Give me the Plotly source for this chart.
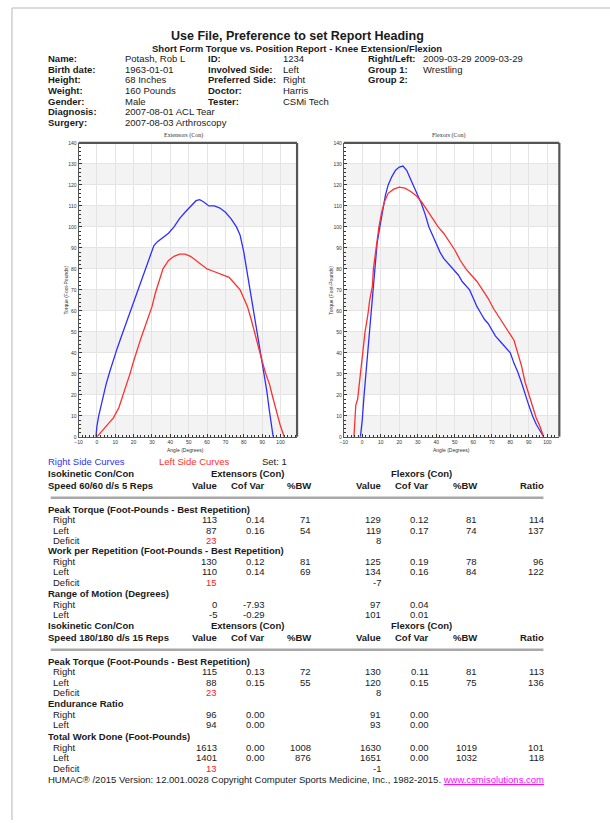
import plotly.graph_objects as go

W, H = 610, 823
FONT = "Arial, 'Liberation Sans', sans-serif"
SERIF = "'Liberation Serif', 'Times New Roman', serif"
BLUE = "#2f2fff"
RED = "#ff2f2f"
TXT = "#1a1a1a"

# ---------------- data: curves ----------------
ext_right_angle = [-0.5, 0, 1, 3, 5, 7, 9, 11, 13, 15, 17, 19, 21, 23, 25, 27, 29, 31, 33, 36, 39, 42, 45,
                   48, 51, 54, 56, 58, 61, 64, 67, 70, 73, 76, 78, 80, 81.5, 83, 85, 87, 89, 91, 92.5, 94, 95, 96]
ext_right_torque = [0, 5, 10, 18, 25, 31, 37, 42, 47, 52, 57, 62, 67, 71, 77, 82, 87, 91, 93, 95, 97, 100, 104,
                    107, 110, 112.5, 113, 112, 110, 110, 109, 107, 104, 100, 96, 88, 80, 72, 62, 52, 42, 31, 22, 12, 5, 0]
ext_left_angle = [0, 3, 6, 9, 12, 14, 16, 18, 20, 22, 24, 26, 28, 30, 32, 34, 36, 39, 42, 45, 48, 51, 54, 57,
                  60, 63, 66, 69, 72, 74, 76, 78, 80, 82, 84, 86, 88, 90, 92, 94, 96, 98, 100, 102]
ext_left_torque = [0, 3, 6, 9, 14, 19, 24, 30, 36, 42, 47, 52, 57, 62, 69, 75, 80, 84, 86, 87, 87, 86, 84, 82,
                   80, 79, 78, 77, 76, 74, 72, 70, 66, 62, 56, 49, 42, 36, 30, 25, 18, 11, 5, 0]
flx_right_angle = [-1, 0, 1, 2, 3, 4, 5, 6, 7, 8, 9.5, 11, 12.5, 14, 16, 18, 20, 22, 24, 26, 28, 30, 32, 34, 36,
                   38, 40, 42, 44, 46, 48, 50, 52, 54, 56, 58, 60, 62, 64, 66, 68, 70, 72, 74, 76, 78, 80, 82,
                   84, 86, 88, 90, 92, 94, 96, 98]
flx_right_torque = [0, 8, 20, 30, 40, 50, 60, 70, 82, 92, 100, 108, 115, 120, 124, 127, 128.5, 129, 127, 123,
                    119, 115, 111, 106, 100, 96, 92, 88, 85, 83, 81, 79, 77, 74, 72, 70, 66, 62, 59, 56, 54, 51,
                    48, 46, 44, 42, 40, 35, 31, 26, 20, 15, 10, 6, 3, 0]
flx_left_angle = [-4.5, -4, -3.5, -2.5, -2, -1.5, -0.5, 0.5, 1.5, 3, 4, 5.5, 6, 7.5, 9, 10.5, 12, 14, 17, 20, 23,
                  26, 29, 32, 35, 38, 41, 44, 47, 50, 53, 56, 59, 62, 65, 68, 71, 74, 77, 79, 82, 84, 86, 88,
                  90, 92, 94, 96, 98]
flx_left_torque = [0, 8, 15, 18, 22, 28, 35, 42, 50, 58, 65, 72, 80, 90, 100, 107, 112, 116, 118, 119, 118.5,
                   117, 115, 112, 108, 104, 100, 97, 93, 89, 84, 80, 77, 74, 70, 66, 61, 57, 53, 50, 46, 40, 34,
                   26, 20, 14, 9, 5, 0]

x_ticks = [-10, 0, 10, 20, 30, 40, 50, 60, 70, 80, 90, 100]
y_ticks = [0, 10, 20, 30, 40, 50, 60, 70, 80, 90, 100, 110, 120, 130, 140]

# ---------------- data: header ----------------
info_labels_1 = ["Name:", "Birth date:", "Height:", "Weight:", "Gender:", "Diagnosis:", "Surgery:"]
info_values_1 = ["Potash, Rob L", "1963-01-01", "68 Inches", "160 Pounds", "Male",
                 "2007-08-01 ACL Tear", "2007-08-03 Arthroscopy"]
info_labels_2 = ["ID:", "Involved Side:", "Preferred Side:", "Doctor:", "Tester:"]
info_values_2 = ["1234", "Left", "Right", "Harris", "CSMi Tech"]
info_labels_3 = ["Right/Left:", "Group 1:", "Group 2:"]
info_values_3 = ["2009-03-29 2009-03-29", "Wrestling", ""]

# ---------------- data: tables ----------------
col_headers = ["Value", "Cof Var", "%BW", "Value", "Cof Var", "%BW", "Ratio"]
peak60_right = [113, 0.14, 71, 129, 0.12, 81, 114]
peak60_left = [87, 0.16, 54, 119, 0.17, 74, 137]
peak60_deficit = [23, 8]
work60_right = [130, 0.12, 81, 125, 0.19, 78, 96]
work60_left = [110, 0.14, 69, 134, 0.16, 84, 122]
work60_deficit = [15, -7]
rom60_right = [0, -7.93, 97, 0.04]
rom60_left = [-5, -0.29, 101, 0.01]
peak180_right = [115, 0.13, 72, 130, 0.11, 81, 113]
peak180_left = [88, 0.15, 55, 120, 0.15, 75, 136]
peak180_deficit = [23, 8]
endur180_right = [96, 0.00, 91, 0.00]
endur180_left = [94, 0.00, 93, 0.00]
total180_right = [1613, 0.00, 1008, 1630, 0.00, 1019, 101]
total180_left = [1401, 0.00, 876, 1651, 0.00, 1032, 118]
total180_deficit = [13, -1]

# ---------------- figure ----------------
fig = go.Figure()
ann = []
shapes = []


def px(x):
    return x / W


def py(y):
    return 1 - y / H


def T(x, y, s, size=9.5, bold=False, color=TXT, anchor="left", family=FONT, angle=0):
    if anchor == "left":
        x -= 3.5
    elif anchor == "right":
        x += 2
    ann.append(dict(x=px(x), y=py(y), xref="paper", yref="paper",
                    text=("<b>%s</b>" % s) if bold else s, showarrow=False,
                    xanchor=anchor, yanchor="middle", textangle=angle, borderpad=0,
                    font=dict(size=size, color=color, family=family)))


# chart traces
fig.add_trace(go.Scatter(x=ext_right_angle, y=ext_right_torque, mode="lines",
                         line=dict(color=BLUE, width=1.3), xaxis="x", yaxis="y", showlegend=False))
fig.add_trace(go.Scatter(x=ext_left_angle, y=ext_left_torque, mode="lines",
                         line=dict(color=RED, width=1.3), xaxis="x", yaxis="y", showlegend=False))
fig.add_trace(go.Scatter(x=flx_right_angle, y=flx_right_torque, mode="lines",
                         line=dict(color=BLUE, width=1.3), xaxis="x2", yaxis="y2", showlegend=False))
fig.add_trace(go.Scatter(x=flx_left_angle, y=flx_left_torque, mode="lines",
                         line=dict(color=RED, width=1.3), xaxis="x2", yaxis="y2", showlegend=False))

ydom = [py(437), py(141)]
axis_common = dict(showgrid=True, gridcolor="#e4e4e4", gridwidth=1, zeroline=False,
                   showline=True, linecolor="#555", linewidth=1, ticks="inside", ticklen=3,
                   tickcolor="#333", tickfont=dict(size=5, color="#333", family=FONT),
                   minor=dict(ticks="inside", ticklen=2, tickcolor="#333", dtick=2, showgrid=False))
fig.update_layout(
    xaxis=dict(domain=[px(75), px(295)], range=[-10, 109], tickvals=x_ticks, anchor="y", **axis_common),
    yaxis=dict(domain=ydom, range=[0, 140], tickvals=y_ticks, anchor="x", **axis_common),
    xaxis2=dict(domain=[px(342), px(559)], range=[-10, 106.5], tickvals=x_ticks, anchor="y2", **axis_common),
    yaxis2=dict(domain=ydom, range=[0, 140], tickvals=y_ticks, anchor="x2", **axis_common),
)

for xr, yr in (("x", "y"), ("x2", "y2")):
    for b in range(0, 140, 20):
        shapes.append(dict(type="rect", xref=xr + " domain", yref=yr, x0=0, x1=1, y0=b, y1=b + 10,
                           fillcolor="#f3f3f3", line=dict(width=0), layer="below"))
    shapes.append(dict(type="line", xref=xr + " domain", yref=yr + " domain", x0=0, x1=1, y0=1, y1=1,
                       line=dict(color="#555", width=2.2)))
    shapes.append(dict(type="line", xref=xr + " domain", yref=yr + " domain", x0=1, x1=1, y0=0, y1=1,
                       line=dict(color="#555", width=2.2)))

# chart titles / axis titles
T(181, 133, "Extensors (Con)", size=6, family=SERIF, anchor="center", color="#333")
T(448, 133, "Flexors (Con)", size=6, family=SERIF, anchor="center", color="#333")
T(62, 289, "Torque (Foot-Pounds)", size=5, anchor="center", color="#333", angle=-90)
T(329, 289, "Torque (Foot-Pounds)", size=5, anchor="center", color="#333", angle=-90)
T(183, 450, "Angle (Degrees)", size=5, anchor="center", color="#333")
T(450, 450, "Angle (Degrees)", size=5, anchor="center", color="#333")

# page border (top/left)
shapes.append(dict(type="line", xref="paper", yref="paper", x0=px(8), x1=1, y0=py(5), y1=py(5),
                   line=dict(color="#cfcfcf", width=1.5)))
shapes.append(dict(type="line", xref="paper", yref="paper", x0=px(8), x1=px(8), y0=0, y1=py(5),
                   line=dict(color="#cfcfcf", width=1.5)))

# header
T(295, 33, "Use File, Preference to set Report Heading", size=12.5, bold=True, anchor="center")
T(295, 45.5, "Short Form Torque vs. Position Report - Knee Extension/Flexion", size=9.5, bold=True, anchor="center")
row_y = [56, 66.8, 77.5, 88.3, 99, 109.8, 120.5]
for i, (l, v) in enumerate(zip(info_labels_1, info_values_1)):
    T(47, row_y[i], l, bold=True)
    T(124, row_y[i], v)
for i, (l, v) in enumerate(zip(info_labels_2, info_values_2)):
    T(208, row_y[i], l, bold=True)
    T(283, row_y[i], v)
for i, (l, v) in enumerate(zip(info_labels_3, info_values_3)):
    T(369, row_y[i], l, bold=True)
    if v:
        T(424, row_y[i], v)

# legend line
T(47, 462, "Right Side Curves", color=BLUE)
T(159, 462, "Left Side Curves", color=RED)
T(262, 462, "Set: 1")

# table
COLS = [213, 262, 308, 378, 427, 475, 543]


def fmt(v, idx):
    if idx in (1, 4):
        return "%.2f" % v
    return str(v)


def full_row(y, label, vals):
    T(52, y, label)
    for i, v in enumerate(vals):
        T(COLS[i], y, fmt(v, i), anchor="right")


def short_row(y, label, vals):
    T(52, y, label)
    for c, v in zip((0, 1, 3, 4), vals):
        T(COLS[c], y, "%.2f" % v if c in (1, 4) else str(v), anchor="right")


def deficit_row(y, vals):
    T(52, y, "Deficit")
    T(COLS[0], y, str(vals[0]), anchor="right", color="#ff2020")
    T(COLS[3], y, str(vals[1]), anchor="right")


def header_block(y_iso, y_speed, y_sep, speed_text):
    T(47, y_iso, "Isokinetic Con/Con", bold=True)
    T(245, y_iso, "Extensors (Con)", bold=True, anchor="center")
    T(420, y_iso, "Flexors (Con)", bold=True, anchor="center")
    T(47, y_speed, speed_text, bold=True)
    for c, h in zip(COLS, col_headers):
        T(c, y_speed, h, bold=True, anchor="right")
    shapes.append(dict(type="line", xref="paper", yref="paper", x0=px(47), x1=px(543),
                       y0=py(y_sep), y1=py(y_sep), line=dict(color="#a8a8a8", width=2.5)))


header_block(474, 486, 498.5, "Speed 60/60 d/s 5 Reps")
T(47, 510.5, "Peak Torque (Foot-Pounds - Best Repetition)", bold=True)
full_row(520.5, "Right", peak60_right)
full_row(531, "Left", peak60_left)
deficit_row(541.5, peak60_deficit)
T(47, 552, "Work per Repetition (Foot-Pounds - Best Repetition)", bold=True)
full_row(562.5, "Right", work60_right)
full_row(573, "Left", work60_left)
deficit_row(583.5, work60_deficit)
T(47, 594.5, "Range of Motion (Degrees)", bold=True)
short_row(605.5, "Right", rom60_right)
short_row(616, "Left", rom60_left)

header_block(627.5, 639, 651.5, "Speed 180/180 d/s 15 Reps")
T(47, 663, "Peak Torque (Foot-Pounds - Best Repetition)", bold=True)
full_row(673.5, "Right", peak180_right)
full_row(684, "Left", peak180_left)
deficit_row(694.5, peak180_deficit)
T(47, 705.5, "Endurance Ratio", bold=True)
short_row(716.5, "Right", endur180_right)
short_row(727, "Left", endur180_left)
T(47, 739, "Total Work Done (Foot-Pounds)", bold=True)
full_row(750, "Right", total180_right)
full_row(760.5, "Left", total180_left)
deficit_row(771, total180_deficit)

T(543, 782, "HUMAC\u00ae /2015 Version: 12.001.0028 Copyright Computer Sports Medicine, Inc., 1982-2015. "
      "<span style='color:#ff00ff'><u>www.csmisolutions.com</u></span>", anchor="right")

fig.update_layout(width=W, height=H, autosize=False, margin=dict(l=0, r=0, t=0, b=0),
                  paper_bgcolor="white", plot_bgcolor="white", showlegend=False,
                  annotations=ann, shapes=shapes)

fig.write_html("out.html", config={"displayModeBar": False},
               post_script="document.body.style.margin='0';document.body.style.overflow='hidden';")
